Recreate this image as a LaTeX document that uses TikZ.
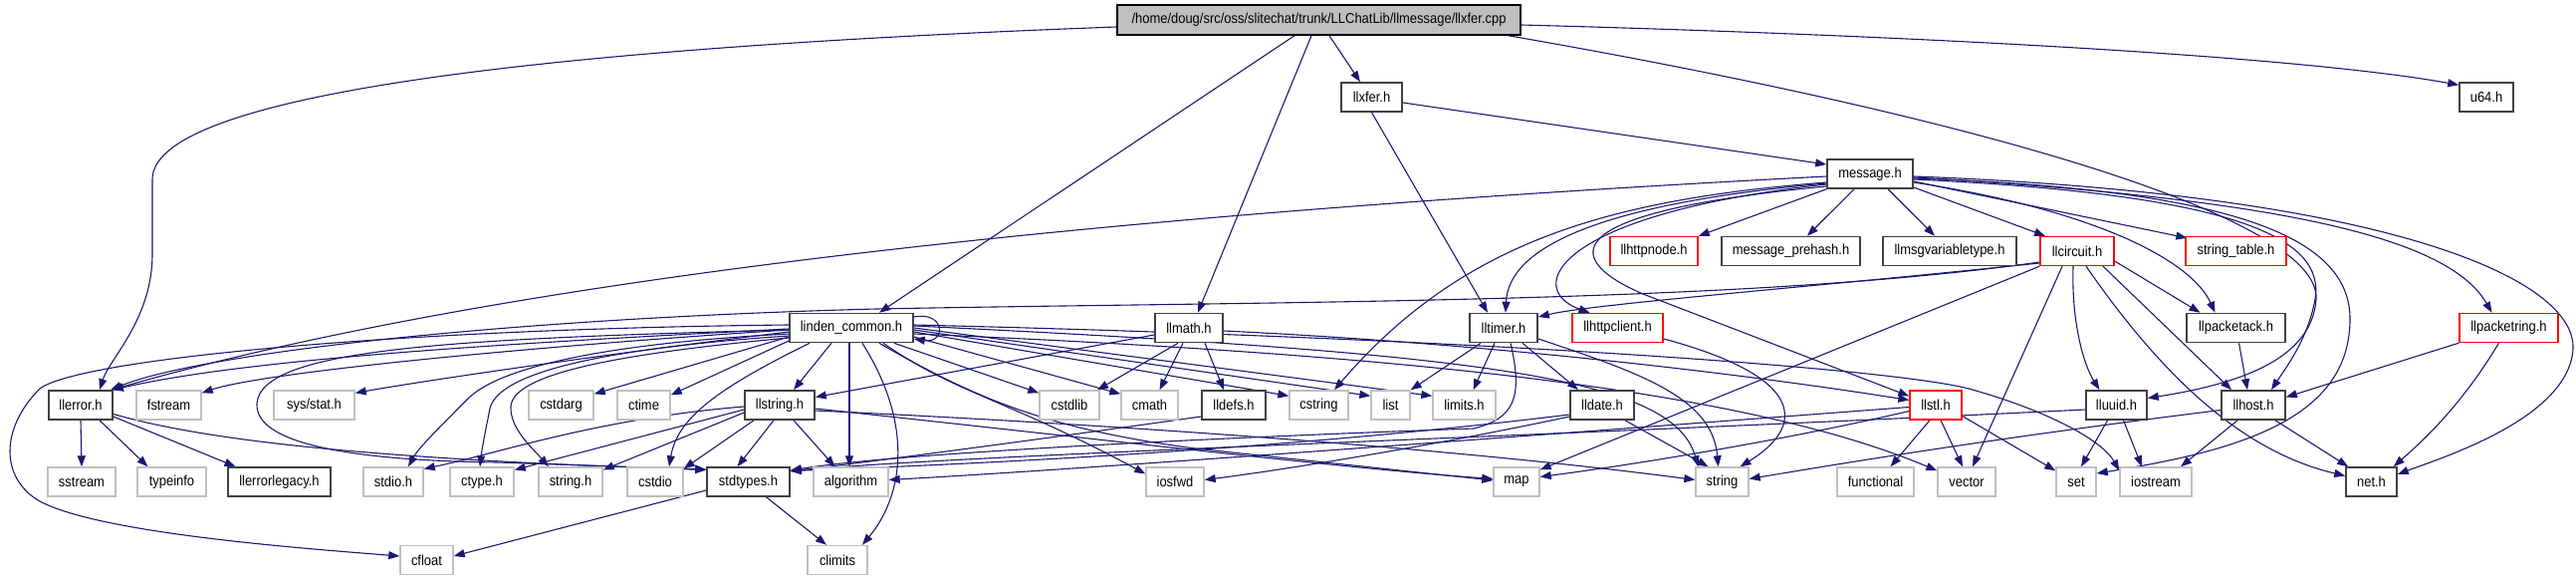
\documentclass[tikz,border=0pt]{standalone}
\usepackage{fontspec}
\setmainfont{Liberation Sans}[FakeStretch=0.9]
\usetikzlibrary{arrows.meta}
\pgfdeclarelayer{bg}
\pgfsetlayers{bg,main}
\definecolor{edgec}{HTML}{191970}
\definecolor{gbord}{HTML}{BFBFBF}
\definecolor{rbord}{HTML}{FF0000}
\definecolor{bbord}{HTML}{404040}
\newcommand\nodefont{\fontsize{14.4}{16}\selectfont}
\tikzset{
  box/.style={draw=bbord, line width=1.6, minimum height=29, inner sep=0, fill=white, font=\nodefont},
  gbox/.style={box, draw=gbord, line width=1.4},
  rbox/.style={box, draw=rbord, line width=1.4},
  rootbox/.style={box, draw=black, fill=gbord, minimum height=30},
  e/.style={draw=edgec, line width=1.1, -{Triangle[length=11,width=8]}}
}
\begin{document}
\begin{tikzpicture}[x=1pt,y=-1pt]
\useasboundingbox (0,0) rectangle (2587,581);
% row 0
\node[rootbox, minimum width=405] (root) at (1324.5,20) {/home/doug/src/oss/slitechat/trunk/LLChatLib/llmessage/llxfer.cpp};
% row 1
\node[box, minimum width=61] (llxfer) at (1377.5,97.5) {llxfer.h};
\node[box, minimum width=54] (u64) at (2497,97.5) {u64.h};
% row 2
\node[box, minimum width=86] (msg) at (1878,174.5) {message.h};
% row 3
\node[rbox, minimum width=88] (httpnode) at (1661,252) {llhttpnode.h};
\node[box, minimum width=139] (prehash) at (1798.5,252) {message\_prehash.h};
\node[box, minimum width=134] (vartype) at (1958,252) {llmsgvariabletype.h};
\node[rbox, minimum width=74] (circuit) at (2086,252) {llcircuit.h};
\node[rbox, minimum width=101] (strtab) at (2245.5,252) {string\_table.h};
% row 4
\node[box, minimum width=124] (lc) at (855,329) {linden\_common.h};
\node[box, minimum width=68] (llmath) at (1194,329) {llmath.h};
\node[box, minimum width=68] (lltimer) at (1510,329) {lltimer.h};
\node[rbox, minimum width=91] (httpclient) at (1624.5,329) {llhttpclient.h};
\node[box, minimum width=99] (packack) at (2245.5,329) {llpacketack.h};
\node[rbox, minimum width=99] (packring) at (2519.5,329) {llpacketring.h};
% row 5
\node[box, minimum width=64] (llerror) at (81,406.5) {llerror.h};
\node[gbox, minimum width=65] (fstream) at (169.5,406.5) {fstream};
\node[gbox, minimum width=81] (sysstat) at (315.5,406.5) {sys/stat.h};
\node[gbox, minimum width=65] (cstdarg) at (563.5,406.5) {cstdarg};
\node[gbox, minimum width=53] (ctime) at (646.5,406.5) {ctime};
\node[box, minimum width=70] (llstring) at (783,406.5) {llstring.h};
\node[gbox, minimum width=60] (cstdlib) at (1074,406.5) {cstdlib};
\node[gbox, minimum width=57] (cmath) at (1154.5,406.5) {cmath};
\node[box, minimum width=64] (lldefs) at (1239,406.5) {lldefs.h};
\node[gbox, minimum width=59] (cstring) at (1324.5,406.5) {cstring};
\node[gbox, minimum width=39] (list) at (1396.5,406.5) {list};
\node[gbox, minimum width=63] (limits) at (1470.5,406.5) {limits.h};
\node[box, minimum width=64] (lldate) at (1609,406.5) {lldate.h};
\node[rbox, minimum width=52] (llstl) at (1944,406.5) {llstl.h};
\node[box, minimum width=61] (lluuid) at (2125.5,406.5) {lluuid.h};
\node[box, minimum width=64] (llhost) at (2263,406.5) {llhost.h};
% row 6
\node[gbox, minimum width=68] (sstream) at (82,483.5) {sstream};
\node[gbox, minimum width=69] (typeinfo) at (172.5,483.5) {typeinfo};
\node[box, minimum width=103] (errlegacy) at (280.5,483.5) {llerrorlegacy.h};
\node[gbox, minimum width=60] (stdioh) at (395,483.5) {stdio.h};
\node[gbox, minimum width=64] (ctypeh) at (484,483.5) {ctype.h};
\node[gbox, minimum width=64] (stringh) at (573,483.5) {string.h};
\node[gbox, minimum width=56] (cstdio) at (658,483.5) {cstdio};
\node[box, minimum width=83] (stdtypes) at (751.5,483.5) {stdtypes.h};
\node[gbox, minimum width=75] (algorithm) at (854.5,483.5) {algorithm};
\node[gbox, minimum width=58] (iosfwd) at (1180,483.5) {iosfwd};
\node[gbox, minimum width=46] (map) at (1523,483.5) {map};
\node[gbox, minimum width=53] (string) at (1729.5,483.5) {string};
\node[gbox, minimum width=77] (functional) at (1883.5,483.5) {functional};
\node[gbox, minimum width=58] (vector) at (1975,483.5) {vector};
\node[gbox, minimum width=40] (set) at (2085,483.5) {set};
\node[gbox, minimum width=72] (iostream) at (2165,483.5) {iostream};
\node[box, minimum width=51] (neth) at (2381.5,483.5) {net.h};
% row 7
\node[gbox, minimum width=53] (cfloat) at (428.5,562) {cfloat};
\node[gbox, minimum width=60] (climits) at (841,562) {climits};

\begin{pgfonlayer}{bg}
% root
\draw[e] ([yshift=-7]root.west) .. controls (500,50) and (153,100) .. (153,180) -- (153,255) .. controls (153,320) and (110,360) .. ([xshift=19]llerror.north);
\draw[e] ([xshift=-24.5]root.south) -- ([xshift=28]lc.north);
\draw[e] ([xshift=-7.5]root.south) -- ([xshift=9]llmath.north);
\draw[e] ([xshift=10.5]root.south) -- ([xshift=-11.5]llxfer.north);
\draw[e] ([yshift=-5]root.east) .. controls (1900,35) and (2300,55) .. ([yshift=-3]u64.north west);
\draw[e] ([xshift=190.5]root.south) .. controls (2000,120) and (2330,220) .. (2326,300) .. controls (2322,360) and (2250,385) .. ([yshift=7]lluuid.east);
% llxfer
\draw[e] ([yshift=-5.5]llxfer.east) -- ([yshift=9.5]msg.west);
\draw[e] (llxfer.south) -- ([xshift=-16]lltimer.north);
% message
\draw[e] (msg.south west) -- (httpnode.north east);
\draw[e] ([xshift=-16]msg.south) -- ([xshift=16.5]prehash.north);
\draw[e] ([xshift=18]msg.south) -- ([xshift=-15]vartype.north);
\draw[e] ([yshift=-13.5]msg.east) -- ([xshift=-32]circuit.north);
\draw[e] ([yshift=-7.5]msg.east) -- ([xshift=2,yshift=-2]strtab.north west);
\draw[e] ([yshift=-2.5]msg.west) .. controls (1100,215) and (500,280) .. ([xshift=31]llerror.north);
\draw[e] ([yshift=-8.5]msg.west) .. controls (1620,200) and (1470,240) .. ([xshift=15.5]cstring.north);
\draw[e] ([yshift=-9.5]msg.west) .. controls (1600,205) and (1515,250) .. ([xshift=2]lltimer.north);
\draw[e] ([yshift=-10.5]msg.west) .. controls (1560,215) and (1530,290) .. ([xshift=-28]httpclient.north);
\draw[e] ([yshift=-12.5]msg.west) .. controls (1540,215) and (1580,265) .. (1650,295) -- ([yshift=9]llstl.west);
\draw[e] ([yshift=-8.5]msg.east) .. controls (2100,210) and (2200,260) .. ([xshift=-21]packack.north);
\draw[e] ([yshift=-5.5]msg.east) .. controls (2250,195) and (2335,240) .. (2325,300) .. controls (2318,340) and (2295,370) .. ([xshift=18]llhost.north);
\draw[e] ([yshift=-4.5]msg.east) .. controls (2250,190) and (2360,240) .. (2360,320) .. controls (2360,420) and (2250,452) .. ([yshift=8.5]set.east);
\draw[e] ([yshift=-3.5]msg.east) .. controls (2300,200) and (2460,240) .. ([xshift=-17]packring.north);
\draw[e] ([yshift=-2.5]msg.east) .. controls (2400,195) and (2587,280) .. (2584,350) .. controls (2580,420) and (2450,460) .. ([yshift=7.5]neth.east);
% circuit
\draw[e] ([yshift=-12]circuit.west) .. controls (1800,290) and (1600,305) .. ([yshift=11]lltimer.east);
\draw[e] ([yshift=-11]circuit.west) .. controls (1750,305) and (1300,302) .. (880,310) .. controls (500,320) and (200,355) .. ([xshift=30]llerror.north);
\draw[e] (circuit.south west) -- ([yshift=-3]map.north east);
\draw[e] ([xshift=-15]circuit.south) -- ([xshift=6]vector.north);
\draw[e] ([xshift=-4]circuit.south) .. controls (2080,330) and (2095,370) .. ([xshift=-17]lluuid.north);
\draw[e] ([xshift=9]circuit.south) .. controls (2180,390) and (2260,455) .. ([yshift=6]neth.west);
\draw[e] ([xshift=26]circuit.south) -- ([xshift=-22]llhost.north);
\draw[e] ([yshift=-10]circuit.east) -- ([xshift=-36]packack.north);
% packack, packring
\draw[e] ([xshift=3]packack.south) -- ([xshift=-6]llhost.north);
\draw[e] (packring.south west) -- ([yshift=8]llhost.east);
\draw[e] ([xshift=-10]packring.south) .. controls (2470,410) and (2430,445) .. ([xshift=-4]neth.north east);
% lltimer
\draw[e] ([xshift=-23]lltimer.south) -- (list.north east);
\draw[e] ([xshift=-9]lltimer.south) -- ([xshift=9]limits.north);
\draw[e] ([xshift=19]lltimer.south) -- ([xshift=-24]lldate.north);
\draw[e] ([yshift=-11]lltimer.east) .. controls (1650,375) and (1720,400) .. ([xshift=-4]string.north);
\draw[e] ([xshift=7]lltimer.south) .. controls (1530,400) and (1520,420) .. (1480,430) .. controls (1200,440) and (900,455) .. ([yshift=11.5]stdtypes.east);
% lldate
\draw[e] ([xshift=23]lldate.south) -- ([xshift=-14]string.north);
\draw[e] ([yshift=-9.5]lldate.west) .. controls (1300,450) and (1000,465) .. ([yshift=11]stdtypes.east);
\draw[e] ([yshift=-11.5]lldate.west) .. controls (1450,445) and (1300,470) .. ([yshift=2]iosfwd.east);
% lldefs
\draw[e] ([yshift=-11.5]lldefs.west) .. controls (1050,440) and (900,460) .. ([yshift=10.5]stdtypes.east);
% llmath
\draw[e] ([yshift=-7]llmath.west) -- ([yshift=8]llstring.east);
\draw[e] ([xshift=-11]llmath.south) -- ([xshift=28]cstdlib.north);
\draw[e] ([xshift=-6]llmath.south) -- ([xshift=10]cmath.north);
\draw[e] ([xshift=16]llmath.south) -- ([xshift=-10]lldefs.north);
\draw[e] ([yshift=-3]llmath.east) .. controls (1500,345) and (1750,375) .. ([yshift=5]llstl.west);
% linden_common
\draw[e] ([yshift=11]lc.east) .. controls (950,312) and (950,345) .. ([yshift=-11]lc.east);
\draw[e] ([yshift=-1]lc.west) .. controls (500,345) and (250,360) .. ([xshift=32]llerror.north);
\draw[e] ([yshift=-2]lc.west) .. controls (500,350) and (260,375) .. ([yshift=-3]fstream.north east);
\draw[e] ([yshift=-4]lc.west) .. controls (650,350) and (450,378) .. ([yshift=-3]sysstat.north east);
\draw[e] ([yshift=-9]lc.west) -- ([yshift=-4]cstdarg.north east);
\draw[e] ([yshift=-13]lc.west) -- ([yshift=-5]ctime.north east);
\draw[e] ([yshift=-6]lc.west) .. controls (600,345) and (500,370) .. (470,400) .. controls (440,430) and (420,450) .. ([xshift=15]stdioh.north);
\draw[e] ([yshift=-8]lc.west) .. controls (600,350) and (500,375) .. (492,410) .. controls (488,430) and (484,450) .. ([xshift=-2]ctypeh.north);
\draw[e] ([yshift=-10]lc.west) .. controls (620,355) and (515,375) .. (513,408) .. controls (512,430) and (535,450) .. ([xshift=-22]stringh.north);
\draw[e] ([xshift=-42]lc.south) .. controls (720,390) and (680,420) .. ([xshift=14]cstdio.north);
\draw[e] ([yshift=3]lc.west) .. controls (400,330) and (80,360) .. (40,390) .. controls (0,430) and (0,480) .. (40,503) .. controls (100,535) and (300,550) .. ([yshift=4]cfloat.west);
\draw[e] ([yshift=-2]lc.west) .. controls (450,340) and (262,350) .. (258,405) .. controls (256,445) and (350,462) .. (500,464) -- ([yshift=12.5]stdtypes.west);
\draw[e] ([xshift=-20]lc.south) -- ([xshift=14]llstring.north);
\draw[e] ([xshift=-2]lc.south) -- ([xshift=-1.5]algorithm.north);
\draw[e] ([xshift=11]lc.south) .. controls (920,430) and (905,500) .. ([xshift=25]climits.north);
\draw[e] ([xshift=32]lc.south) .. controls (960,395) and (1010,400) .. ([yshift=8]iosfwd.west);
\draw[e] ([xshift=28]lc.south) .. controls (980,400) and (1050,430) .. (1200,450) -- ([yshift=1.5]map.west);
\draw[e] ([xshift=43]lc.south) -- ([yshift=-3]cstdlib.north west);
\draw[e] ([yshift=-9]lc.east) -- ([yshift=-4]cmath.north west);
\draw[e] ([yshift=-4]lc.east) -- ([yshift=-6]cstring.north west);
\draw[e] ([yshift=-2]lc.east) -- ([yshift=-6]list.north west);
\draw[e] (lc.east) -- ([yshift=-6]limits.north west);
\draw[e] ([yshift=2]lc.east) .. controls (1500,355) and (1680,380) .. ([xshift=-24]string.north);
\draw[e] ([yshift=-6]lc.east) .. controls (1400,355) and (1750,390) .. ([yshift=-4]vector.north west);
\draw[e] ([yshift=3]lc.east) .. controls (1500,340) and (1900,370) .. (1977,390) .. controls (2050,410) and (2110,440) .. ([yshift=-4]iostream.north west);
% llstring
\draw[e] ([yshift=-1.5]llstring.west) .. controls (600,420) and (500,455) .. ([yshift=13]stdioh.east);
\draw[e] ([yshift=-4.5]llstring.west) -- ([yshift=12]ctypeh.east);
\draw[e] ([yshift=-7.5]llstring.west) -- ([yshift=12]stringh.east);
\draw[e] ([xshift=-26]llstring.south) -- ([yshift=-2]cstdio.north east);
\draw[e] ([xshift=-6]llstring.south) -- ([xshift=-11]stdtypes.north);
\draw[e] ([xshift=14]llstring.south) -- ([xshift=-16]algorithm.north);
\draw[e] ([yshift=-3.5]llstring.east) .. controls (1100,440) and (1350,470) .. ([yshift=3]map.west);
\draw[e] ([yshift=-5.5]llstring.east) .. controls (1200,430) and (1500,455) .. ([yshift=2]string.west);
% llerror
\draw[e] (llerror.south) -- (sstream.north);
\draw[e] ([xshift=19]llerror.south) -- ([xshift=-24]typeinfo.north);
\draw[e] ([yshift=-11.5]llerror.east) -- ([xshift=-44]errlegacy.north);
\draw[e] ([yshift=-9]llerror.east) .. controls (200,440) and (350,460) .. ([yshift=12]stdtypes.west);
% stdtypes
\draw[e] ([yshift=-8.5]stdtypes.west) -- ([yshift=4]cfloat.east);
\draw[e] ([xshift=18]stdtypes.south) -- ([xshift=-11]climits.north);
% lluuid
\draw[e] ([xshift=-9]lluuid.south) -- ([xshift=5]set.north);
\draw[e] ([xshift=7]lluuid.south) -- ([xshift=-14]iostream.north);
\draw[e] ([yshift=-4.5]lluuid.west) .. controls (1500,440) and (1000,455) .. ([yshift=11]stdtypes.east);
% llhost
\draw[e] ([xshift=-16]llhost.south) -- ([xshift=25]iostream.north);
\draw[e] ([xshift=22]llhost.south) -- ([xshift=3]neth.north west);
\draw[e] ([yshift=-5]llhost.west) .. controls (2000,440) and (1850,465) .. ([yshift=3]string.east);
% llstl
\draw[e] ([xshift=-6]llstl.south) -- ([xshift=15]functional.north);
\draw[e] ([xshift=5]llstl.south) -- ([xshift=-4]vector.north);
\draw[e] ([yshift=-11]llstl.east) -- ([yshift=-4]set.north west);
\draw[e] ([yshift=-6]llstl.west) .. controls (1800,440) and (1650,465) .. ([yshift=5]map.east);
\draw[e] ([yshift=-2]llstl.west) .. controls (1500,440) and (1100,470) .. ([yshift=2]algorithm.east);
% llhttpclient
\draw[e] ([yshift=-11]httpclient.east) .. controls (1820,380) and (1810,430) .. ([xshift=18]string.north);
\end{pgfonlayer}
\end{tikzpicture}
\end{document}
